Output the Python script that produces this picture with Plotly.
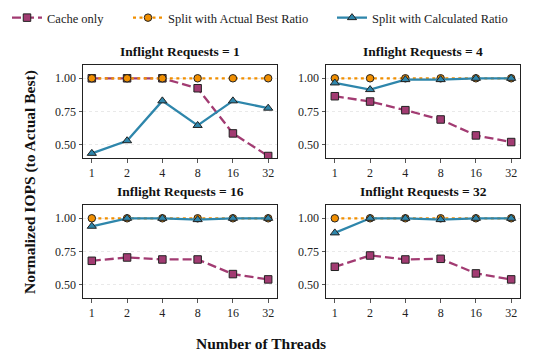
import plotly.graph_objects as go
from plotly.subplots import make_subplots

threads = ["1", "2", "4", "8", "16", "32"]
panel_titles = ["Inflight Requests = 1", "Inflight Requests = 4",
                "Inflight Requests = 16", "Inflight Requests = 32"]

cache_only = [
    [1.00, 1.00, 1.00, 0.925, 0.585, 0.415],
    [0.865, 0.825, 0.76, 0.69, 0.57, 0.52],
    [0.68, 0.705, 0.69, 0.69, 0.58, 0.54],
    [0.635, 0.72, 0.69, 0.695, 0.585, 0.54],
]
actual_best = [
    [1.0, 1.0, 1.0, 1.0, 1.0, 1.0],
    [1.0, 1.0, 1.0, 1.0, 1.0, 1.0],
    [1.0, 1.0, 1.0, 1.0, 1.0, 1.0],
    [1.0, 1.0, 1.0, 1.0, 1.0, 1.0],
]
calculated = [
    [0.435, 0.53, 0.83, 0.645, 0.83, 0.775],
    [0.965, 0.915, 0.99, 0.99, 1.0, 1.0],
    [0.94, 1.0, 1.0, 0.99, 1.0, 1.0],
    [0.89, 1.0, 1.0, 0.99, 1.0, 1.0],
]

series = [
    ("Cache only", cache_only, dict(color="#a23b72", width=2.3, dash="9px,4px"),
     dict(symbol="square", size=7.5, color="#a23b72", line=dict(color="#222", width=1)), "legend"),
    ("Split with Actual Best Ratio", actual_best, dict(color="#f18f01", width=2.3, dash="3px,3.5px"),
     dict(symbol="circle", size=7.5, color="#f18f01", line=dict(color="#222", width=1)), "legend2"),
    ("Split with Calculated Ratio", calculated, dict(color="#2e86ab", width=2.3, dash="solid"),
     dict(symbol="triangle-up", size=8, color="#2e86ab", line=dict(color="#222", width=1)), "legend3"),
]

FONT = "Liberation Serif"
# page has an 8px body margin, so the figure is drawn a bit smaller and
# positions below are given in window pixels then converted
OFF = 8
W, H = 552 - 2 * OFF, 360 - 2 * OFF


def px(x):
    return (x - OFF) / W


def py(y):
    return 1 - (y - OFF) / H


fig = make_subplots(rows=2, cols=2)

for i in range(4):
    r, c = i // 2 + 1, i % 2 + 1
    for name, data, line, marker, leg in series:
        fig.add_trace(go.Scatter(
            x=threads, y=data[i], name=name, mode="lines+markers",
            line=line, marker=marker, showlegend=(i == 0), legend=leg
        ), row=r, col=c)

x_doms = [(px(83), px(277)), (px(326), px(520))]
y_doms = [(py(158), py(65)), (py(298), py(205))]

for i in range(4):
    r, c = i // 2, i % 2
    xa = "xaxis" if i == 0 else f"xaxis{i + 1}"
    ya = "yaxis" if i == 0 else f"yaxis{i + 1}"
    fig.layout[xa].update(
        domain=x_doms[c], type="category", range=[-0.25, 5.25],
        showline=True, mirror=True, linecolor="#222", linewidth=1,
        ticks="outside", ticklen=3.5, tickcolor="#555", showgrid=False,
        tickfont=dict(family=FONT, size=12, color="#222"), zeroline=False
    )
    fig.layout[ya].update(
        domain=y_doms[r], range=[0.40, 1.10], tickvals=[0.5, 0.75, 1.0],
        ticktext=["0.50", "0.75", "1.00"],
        showline=True, mirror=True, linecolor="#222", linewidth=1,
        ticks="outside", ticklen=3.5, tickcolor="#555",
        showgrid=True, gridcolor="#e9e9e9", griddash="dot", gridwidth=0.8,
        tickfont=dict(family=FONT, size=12, color="#222"), zeroline=False
    )
    fig.add_annotation(
        text=f"<b>{panel_titles[i]}</b>", xref="paper", yref="paper",
        x=sum(x_doms[c]) / 2, xanchor="center",
        y=y_doms[r][1] + 4 / H, yanchor="bottom",
        showarrow=False, font=dict(family=FONT, size=13.5, color="#111")
    )

fig.add_annotation(
    text="<b>Number of Threads</b>", xref="paper", yref="paper",
    x=px(261), xanchor="center", y=py(343), yanchor="middle", showarrow=False,
    font=dict(family=FONT, size=15.5, color="#111")
)
fig.add_annotation(
    text="<b>Normalized IOPS (to Actual Best)</b>", xref="paper", yref="paper",
    x=px(30), xanchor="center", y=py(182), yanchor="middle",
    textangle=-90, showarrow=False,
    font=dict(family=FONT, size=15.5, color="#111")
)

leg_common = dict(orientation="h", y=py(18), xanchor="left", yanchor="middle",
                  font=dict(family=FONT, size=12.5, color="#222"),
                  bgcolor="rgba(0,0,0,0)")

fig.update_layout(
    width=W, height=H,
    margin=dict(l=0, r=0, t=0, b=0, autoexpand=False),
    paper_bgcolor="white", plot_bgcolor="white",
    font=dict(family=FONT, size=12, color="#222"),
    legend=dict(x=px(7), **leg_common),
    legend2=dict(x=px(128), **leg_common),
    legend3=dict(x=px(332), **leg_common),
)

fig.write_html("out.html")
